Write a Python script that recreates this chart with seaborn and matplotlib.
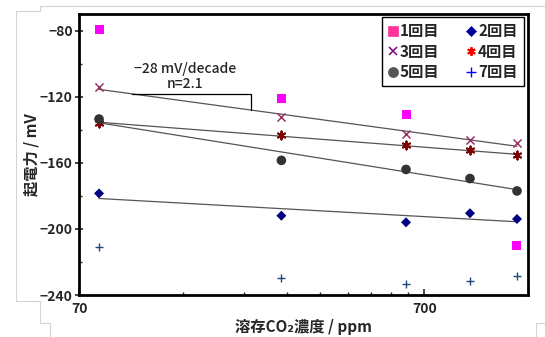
import numpy as np
import pandas as pd
import matplotlib.pyplot as plt
import seaborn as sns
from matplotlib.lines import Line2D
from matplotlib.ticker import FixedLocator, NullFormatter

# dissolved CO2 concentration (ppm) and EMF readings (mV) per run
co2_ppm = [80, 270, 620, 950, 1300]
emf_run1 = [-79.5, -121, -131, np.nan, -210]
emf_run2 = [-178.5, -192, -196, -190.5, -194]
emf_run3 = [-114, -132.5, -142.5, -146, -148]
emf_run4 = [-136, -143, -149.5, -152.5, -155.5]
emf_run5 = [-133.5, -158.5, -164, -169.5, -177]
emf_run7 = [-211, -229.5, -233.5, -231.5, -228.5]

run_labels = ['1回目', '2回目', '3回目', '4回目', '5回目', '7回目']
x_ticks = [70, 700]
y_ticks = [-240, -200, -160, -120, -80]

FONTS = ['Noto Sans CJK JP', 'DejaVu Sans']


def make_frame():
    df = pd.DataFrame({'co2': co2_ppm * 6,
                       'emf': emf_run1 + emf_run2 + emf_run3 +
                       emf_run4 + emf_run5 + emf_run7,
                       'run': np.repeat(run_labels, len(co2_ppm))})
    return df.dropna()


def draw_outline(fig):
    """light grey screenshot edges around the chart"""
    w, h = 545.0, 337.0
    paths = [
        [(40, 5.5), (545, 5.5)],
        [(40, 5.5), (40, 11), (15.5, 11), (15.5, 301), (40, 301),
         (40, 323), (50, 323), (50, 337)],
        [(545, 323), (536, 323), (536, 337)],
    ]
    for p in paths:
        xs = [a / w for a, b in p]
        ys = [1 - b / h for a, b in p]
        fig.add_artist(Line2D(xs, ys, transform=fig.transFigure,
                              color='#d4d4d4', lw=0.8))


def main():
    sns.set_style('ticks')
    plt.rcParams['font.family'] = FONTS
    plt.rcParams['axes.unicode_minus'] = True

    df = make_frame()

    fig = plt.figure(figsize=(5.45, 3.37), dpi=100)
    ax = fig.add_axes([0.145, 0.1246, 0.824, 0.8334])
    ax.set_xscale('log')

    styles = {
        '1回目': dict(marker='s', color='#ff00ff', s=42),
        '2回目': dict(marker='D', color='#000080', s=26),
        '3回目': dict(marker='x', color='#993366', s=34, linewidth=1.1),
        '4回目': dict(marker=(6, 2, 0), color='#7a0000', s=34, linewidth=1.4),
        '5回目': dict(marker='o', color='#333333', s=48),
        '7回目': dict(marker='+', color='#1f497d', s=40, linewidth=1.0),
    }

    # trend lines (linear in log concentration)
    for run in ['3回目', '4回目', '5回目', '2回目']:
        sub = df[df['run'] == run]
        sns.regplot(data=sub, x='co2', y='emf', logx=True, ci=None,
                    scatter=False, truncate=True, ax=ax,
                    line_kws=dict(color='#555555', lw=0.9))

    for run in run_labels:
        sub = df[df['run'] == run]
        st = styles[run]
        sns.scatterplot(data=sub, x='co2', y='emf', ax=ax, zorder=3,
                        edgecolor='none' if st['marker'] in ('s', 'D', 'o')
                        else None, legend=False, **st)

    # slope bracket on the 3rd-run fit
    sub = df[df['run'] == '3回目']
    k, b = np.polyfit(np.log10(sub['co2']), sub['emf'], 1)
    xa, xb = 100, 220
    ya, yb = k * np.log10(xa) + b, k * np.log10(xb) + b
    ax.plot([xa, xb, xb], [ya, ya, yb], color='black', lw=0.9)
    ax.text(142, -103, '−28 mV/decade', ha='center', va='center',
            fontsize=10, fontweight='medium', family=FONTS)
    ax.text(142, -112.5, 'n=2.1', ha='center', va='center',
            fontsize=10, fontweight='medium', family=FONTS)

    ax.set_xlim(70, 1400)
    ax.set_ylim(-240, -70)
    ax.set_xticks(x_ticks)
    ax.set_xticklabels([str(t) for t in x_ticks])
    ax.xaxis.set_minor_locator(FixedLocator([70 * i for i in range(2, 10)]))
    ax.xaxis.set_minor_formatter(NullFormatter())
    ax.set_yticks(y_ticks)
    ax.yaxis.set_minor_locator(FixedLocator([-220, -180, -140, -100]))

    ax.tick_params(axis='x', which='major', direction='in', length=4,
                   width=1.2, pad=5, labelsize=10)
    ax.tick_params(axis='x', which='minor', direction='in', length=2.5,
                   width=1.0)
    ax.tick_params(axis='y', which='major', direction='inout', length=6,
                   width=1.2, pad=1.5, labelsize=10)
    ax.tick_params(axis='y', which='minor', direction='in', length=2.5,
                   width=1.0)
    for lab in ax.get_xticklabels() + ax.get_yticklabels():
        lab.set_fontweight('bold')

    for sp in ax.spines.values():
        sp.set_visible(True)
        sp.set_linewidth(2)
        sp.set_color('black')

    ax.set_xlabel('溶存CO₂濃度 / ppm', fontsize=11, fontweight='bold')
    ax.set_ylabel('起電力 / mV', fontsize=11, fontweight='bold')
    ax.xaxis.set_label_coords(0.5, -0.085)
    ax.yaxis.set_label_coords(-0.088, 0.5)

    legend_cols = {'1回目': '#ff3399', '2回目': '#000099', '3回目': '#800080',
                   '4回目': '#ff0000', '5回目': '#555555', '7回目': '#0000ff'}
    handles = []
    for run in run_labels:
        st = styles[run]
        handles.append(Line2D([], [], ls='none', marker=st['marker'],
                              color=legend_cols[run],
                              markeredgecolor=legend_cols[run],
                              markersize=np.sqrt(st['s']) * 1.05,
                              markeredgewidth=st.get('linewidth', 0.5),
                              label=run))
    order = [0, 2, 4, 1, 3, 5]
    leg = ax.legend([handles[i] for i in order],
                    [run_labels[i] for i in order],
                    ncol=2, loc='upper right', bbox_to_anchor=(0.99, 0.99),
                    borderaxespad=0, fancybox=False, framealpha=1,
                    edgecolor='black', handlelength=0.6, handletextpad=0.15,
                    columnspacing=1.8, labelspacing=0.3, borderpad=0.4,
                    prop=dict(family=FONTS, size=11, weight='bold'))
    leg.get_frame().set_linewidth(1.0)

    draw_outline(fig)
    fig.savefig('out.png', dpi=100)


if __name__ == '__main__':
    main()
